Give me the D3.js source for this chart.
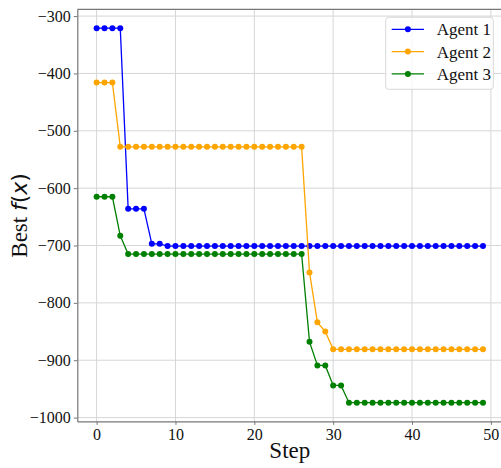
<!DOCTYPE html>
<html>
<head>
<meta charset="utf-8">
<script src="https://cdn.jsdelivr.net/npm/d3@7"></script>
<style>
  body { margin: 0; background: white; }
  svg { display: block; }
  svg text { font-family: "Liberation Serif", "Times New Roman", serif; }
</style>
</head>
<body>
<div id="chart"></div>
<script>
'use strict';

// data
const steps = d3.range(0, 50);
const agent1 = [-321, -321, -321, -321, -636, -636, -636, -697, -697]
  .concat(Array(41).fill(-701));
const agent2 = [-416, -416, -416]
  .concat(Array(24).fill(-528))
  .concat([-747, -834, -850])
  .concat(Array(20).fill(-881));
const agent3 = [-615, -615, -615, -683]
  .concat(Array(23).fill(-715))
  .concat([-868, -909, -909, -944, -944])
  .concat(Array(18).fill(-974));
const series_names = ['Agent 1', 'Agent 2', 'Agent 3'];
const series_colors = ['#0000ff', '#ffa500', '#008000'];
const x_ticks = [0, 10, 20, 30, 40, 50];
const y_ticks = [-300, -400, -500, -600, -700, -800, -900, -1000];

const width = 501, height = 468;
const plot = { left: 77.3, right: 502.3, top: 9.4, bottom: 421.4 };
const serif = '"Liberation Serif", "Times New Roman", serif';

const svg = d3.select('#chart').append('svg')
  .attr('width', width)
  .attr('height', height)
  .attr('font-family', serif);

const all_vals = agent1.concat(agent2, agent3);
const [ymin, ymax] = d3.extent(all_vals);
const ypad = (ymax - ymin) * 0.05;
const xpad = (d3.max(steps) - d3.min(steps)) * 0.05;

const x = d3.scaleLinear()
  .domain([d3.min(steps) - xpad, d3.max(steps) + xpad])
  .range([plot.left, plot.right]);
const y = d3.scaleLinear()
  .domain([ymin - ypad, ymax + ypad])
  .range([plot.bottom, plot.top]);

// grid
const grid = svg.append('g').attr('stroke', '#d6d6d6').attr('stroke-width', 1);
grid.selectAll('.gx').data(x_ticks).join('line')
  .attr('x1', d => x(d)).attr('x2', d => x(d))
  .attr('y1', plot.top).attr('y2', plot.bottom);
grid.selectAll('.gy').data(y_ticks).join('line')
  .attr('x1', plot.left).attr('x2', plot.right)
  .attr('y1', d => y(d)).attr('y2', d => y(d));

// axes
const xAxis = svg.append('g')
  .attr('transform', `translate(0,${plot.bottom})`)
  .call(d3.axisBottom(x).tickValues(x_ticks).tickSize(3.5).tickPadding(4).tickSizeOuter(0));
const yAxis = svg.append('g')
  .attr('transform', `translate(${plot.left},0)`)
  .call(d3.axisLeft(y).tickValues(y_ticks).tickSize(3.5).tickPadding(3).tickSizeOuter(0)
    .tickFormat(d => d3.format('d')(d).replace('-', '\u2212')));

[xAxis, yAxis].forEach(ax => {
  ax.attr('font-family', serif).attr('font-size', 16);
  ax.select('.domain').attr('stroke', '#777').attr('stroke-width', 1.2);
  ax.selectAll('.tick line').attr('stroke', '#777').attr('stroke-width', 1);
  ax.selectAll('.tick text')
    .attr('fill', '#111')
    .attr('font-family', serif)
    .attr('font-size', 16);
});

// top spine
svg.append('line')
  .attr('x1', plot.left).attr('x2', plot.right)
  .attr('y1', plot.top).attr('y2', plot.top)
  .attr('stroke', '#777').attr('stroke-width', 1.2);

// lines + markers
const series = [agent1, agent2, agent3];
const line = d3.line().x((d, i) => x(steps[i])).y(d => y(d));
series.forEach((vals, k) => {
  const g = svg.append('g');
  g.append('path')
    .datum(vals)
    .attr('d', line)
    .attr('fill', 'none')
    .attr('stroke', series_colors[k])
    .attr('stroke-width', 1.3);
  g.selectAll('circle').data(vals).join('circle')
    .attr('cx', (d, i) => x(steps[i]))
    .attr('cy', d => y(d))
    .attr('r', 3)
    .attr('fill', series_colors[k]);
});

// labels
svg.append('text')
  .attr('x', (plot.left + plot.right) / 2)
  .attr('y', 458)
  .attr('text-anchor', 'middle')
  .attr('font-size', 23)
  .attr('fill', '#111')
  .text('Step');

const math = '"DejaVu Sans", sans-serif';
const ylab = svg.append('text')
  .attr('transform', `translate(27,${(plot.top + plot.bottom) / 2}) rotate(-90)`)
  .attr('text-anchor', 'middle')
  .attr('font-size', 23)
  .attr('fill', '#111');
ylab.append('tspan').text('Best ');
ylab.append('tspan').style('font-family', math).style('font-style', 'italic').style('font-size', '22px').text('f');
ylab.append('tspan').style('font-family', math).style('font-size', '22px').text('(');
ylab.append('tspan').style('font-family', math).style('font-style', 'italic').style('font-size', '22px').text('x');
ylab.append('tspan').style('font-family', math).style('font-size', '22px').text(')');

// legend
const legend = svg.append('g').attr('transform', 'translate(385.7,17.3)');
legend.append('rect')
  .attr('width', 107.6).attr('height', 72)
  .attr('rx', 3)
  .attr('fill', 'white').attr('fill-opacity', 0.8)
  .attr('stroke', '#d8d8d8');
series_names.forEach((name, k) => {
  const ly = 12 + k * 22.3;
  legend.append('line')
    .attr('x1', 6).attr('x2', 38.3)
    .attr('y1', ly).attr('y2', ly)
    .attr('stroke', series_colors[k]).attr('stroke-width', 1.3);
  legend.append('circle')
    .attr('cx', 22.2).attr('cy', ly).attr('r', 3)
    .attr('fill', series_colors[k]);
  legend.append('text')
    .attr('x', 51).attr('y', ly + 6)
    .attr('font-size', 17)
    .attr('fill', '#111')
    .text(name);
});
</script>
</body>
</html>
